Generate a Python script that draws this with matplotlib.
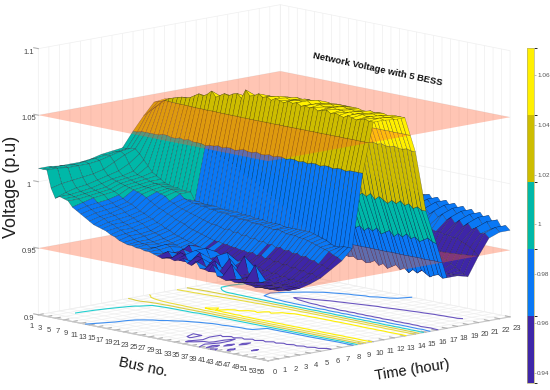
import numpy as np
import matplotlib
matplotlib.use("Agg")
import matplotlib.pyplot as plt
from matplotlib.colors import ListedColormap, BoundaryNorm
from matplotlib.cm import ScalarMappable
from mpl_toolkits.mplot3d.art3d import Poly3DCollection

plt.rcParams['font.family'] = ['Liberation Sans', 'DejaVu Sans']

# bus voltage per hour, thousandths of p.u, bus 1 to bus 55
t00 = [1010,1010,1010,997,990, 992,991,990,986,984, 982,980,978,976,975, 974,973,971,970,968, 967,966,966,965,965, 964,964,963,962,961, 962,962,961,962,964, 961,960,964,959,959, 958,964,956,955,954, 955,954,954,955,954, 954,953,954,954,954]
t01 = [1010,1010,1010,999,993, 992,991,990,988,986, 984,982,980,979,977, 976,974,973,971,970, 968,967,966,966,964, 965,964,962,964,960, 961,965,964,959,960, 965,964,958,957,964, 956,955,954,964,953, 954,952,953,953,952, 952,952,951,952,951]
t02 = [1009,1010,1009,1000,995, 993,992,991,990,987, 985,983,981,980,978, 976,975,973,972,970, 969,967,966,965,964, 966,965,961,961,965, 960,959,966,965,958, 957,958,965,957,955, 965,954,953,952,953, 951,964,951,952,950, 951,950,951,950,950]
t03 = [1009,1009,1009,1001,996, 994,993,992,991,988, 986,984,983,981,979, 978,976,975,973,971, 970,969,967,966,965, 964,963,962,966,960, 960,960,966,959,957, 958,956,966,955,956, 954,966,953,953,952, 952,951,952,950,951, 950,951,950,950,950]
t04 = [1009,1010,1009,1002,998, 996,994,993,992,990, 988,986,985,983,981, 980,978,977,975,974, 972,971,969,968,967, 966,965,964,963,962, 963,961,962,960,961, 959,960,958,959,957, 958,956,957,955,956, 954,955,953,954,952, 953,952,952,952,952]
t05 = [1010,1011,1010,1004,1000, 998,997,996,995,994, 993,992,991,989,987, 985,983,982,980,979, 977,976,975,973,972, 971,970,969,968,967, 967,966,966,965,965, 964,964,963,964,962, 963,961,962,960,961, 959,960,958,959,957, 958,956,957,955,955]
t06 = [1012,1012,1012,1008,1002, 999,998,997,996,995, 994,994,993,992,991, 990,987,986,984,983, 982,981,980,979,978, 977,976,976,975,974, 975,973,974,972,973, 971,972,970,971,969, 970,968,969,967,968, 966,967,965,966,964, 964,962,962,960,960]
t07 = [1013,1013,1014,1012,1006, 1001,999,998,997,996, 995,995,994,993,993, 992,991,988,987,986, 986,985,985,984,984, 983,983,983,982,982, 981,981,981,980,980, 980,979,979,978,979, 978,977,977,977,976, 976,975,974,973,972, 971,970,968,967,965]
t08 = [1014,1014,1015,1015,1012, 1008,1004,1000,998,996, 994,993,992,992,991, 991,991,985,985,984, 984,984,984,983,983, 983,983,983,982,982, 982,981,981,981,980, 980,980,980,979,979, 979,979,979,979,979, 978,977,976,975,973, 972,972,973,973,973]
t09 = [1025,1025,1026,1026,1026, 1026,1026,1027,1027,1026, 1026,1027,1026,1027,1026, 1026,1026,1025,1026,1026, 1027,1026,1027,1027,1026, 1027,1028,1027,1027,1028, 1027,1027,1028,1027,1028, 1028,1027,1028,1028,1027, 1028,1027,1028,1028,1027, 1028,1028,1027,1028,1028, 1027,1028,1028,1028,1028]
t10 = [1035,1038,1041,1044,1047, 1050,1052,1053,1054,1055, 1055,1056,1058,1060,1059, 1061,1064,1060,1062,1064, 1063,1065,1066,1063,1070, 1066,1067,1069,1067,1068, 1066,1068,1067,1066,1068, 1067,1068,1066,1067,1066, 1067,1065,1066,1067,1065, 1066,1065,1064,1066,1065, 1064,1065,1066,1065,1065]
t11 = [1044,1045,1046,1046,1047, 1048,1049,1050,1051,1052, 1052,1053,1055,1056,1055, 1056,1058,1057,1059,1060, 1060,1062,1062,1061,1064, 1063,1065,1066,1066,1067, 1065,1067,1066,1067,1067, 1066,1068,1066,1067,1067, 1066,1066,1067,1066,1066, 1065,1066,1065,1066,1066, 1065,1066,1065,1066,1065]
t12 = [1045,1045,1046,1046,1046, 1047,1048,1048,1049,1050, 1050,1051,1052,1053,1053, 1054,1055,1055,1056,1057, 1057,1058,1059,1059,1061, 1060,1062,1063,1063,1065, 1064,1066,1065,1066,1066, 1065,1067,1065,1066,1066, 1065,1065,1066,1065,1065, 1064,1065,1064,1065,1065, 1064,1065,1064,1065,1064]
t13 = [1044,1044,1045,1045,1045, 1046,1046,1047,1047,1048, 1048,1049,1050,1050,1051, 1051,1052,1052,1053,1054, 1054,1055,1055,1056,1057, 1057,1059,1059,1060,1061, 1061,1062,1062,1063,1063, 1063,1064,1063,1064,1064, 1064,1064,1064,1064,1063, 1063,1064,1063,1064,1064, 1063,1064,1064,1064,1064]
t14 = [1022,1023,1024,1025,1026, 1027,1028,1029,1030,1031, 1032,1033,1033,1034,1034, 1035,1035,1035,1036,1036, 1036,1036,1037,1037,1037, 1037,1037,1037,1037,1038, 1037,1038,1037,1038,1037, 1038,1037,1037,1038,1037, 1037,1038,1037,1037,1038, 1037,1038,1037,1037,1038, 1037,1037,1038,1037,1037]
t15 = [1006,1006,1005,1004,1003, 1002,1001,1000,999,999, 998,998,997,997,996, 996,996,995,996,995, 995,996,994,995,996, 994,995,993,995,996, 993,995,996,993,994, 996,993,995,992,995, 993,996,992,995,993, 991,994,992,995,992, 994,991,993,991,991]
t16 = [1005,1004,1003,1001,999, 997,995,993,991,989, 987,985,983,981,979, 977,975,973,972,970, 969,968,968,967,967, 968,966,967,965,968, 966,964,967,965,968, 965,967,964,967,965, 968,964,966,968,964, 967,965,968,965,967, 964,966,968,966,965]
t17 = [1005,1004,1003,1001,998, 996,994,991,989,987, 985,983,981,979,976, 973,970,964,960,958, 956,955,953,951,950, 948,946,944,942,941, 940,939,940,938,939, 937,938,940,937,939, 936,938,940,937,939, 936,939,937,940,938, 936,938,939,937,938]
t18 = [1006,1005,1004,1002,1000, 998,996,994,992,990, 988,986,984,982,980, 978,975,970,968,967, 966,965,964,962,960, 959,958,957,956,955, 954,953,952,951,950, 949,948,947,946,945, 945,944,943,943,942, 941,941,940,940,939, 939,938,938,938,938]
t19 = [1007,1006,1005,1003,1001, 999,997,995,994,992, 990,989,987,985,984, 982,980,978,976,974, 973,972,971,970,969, 968,967,966,965,964, 963,962,961,960,960, 959,958,957,956,955, 954,953,952,951,950, 949,948,947,946,945, 943,941,939,937,936]
t20 = [1008,1007,1006,1004,1002, 1000,998,997,995,994, 992,991,990,988,987, 985,984,983,981,980, 979,978,977,976,975, 974,973,972,971,971, 970,970,969,969,968, 968,967,967,966,966, 965,964,964,963,962, 962,961,961,960,960, 958,957,955,953,950]
t21 = [1009,1008,1007,1005,1003, 1001,1000,998,997,996, 994,993,992,991,990, 989,988,987,986,985, 984,983,982,982,981, 980,980,979,979,978, 978,977,977,976,975, 977,973,976,972,975, 971,974,970,973,969, 972,968,971,967,970, 966,968,964,965,962]
t22 = [1010,1009,1008,1006,1004, 1002,1001,999,998,997, 995,994,993,992,991, 990,989,988,988,987, 986,985,985,984,984, 983,982,982,981,981, 980,980,979,979,979, 980,976,979,975,978, 974,977,973,976,972, 975,971,974,970,973, 968,971,966,968,965]
t23 = [1010,1010,1008,1006,1004, 1003,1001,1000,999,997, 996,995,994,993,992, 991,990,989,988,987, 986,986,985,984,984, 983,983,982,982,981, 981,980,980,979,979, 980,976,979,975,978, 974,977,973,976,972, 975,971,974,970,973, 968,971,966,968,965]

buses = np.arange(1, 56)
hours = np.arange(0, 24)
limit_planes = [0.95, 1.05]
bar_edges = [0.936, 0.963, 0.990, 1.017, 1.044, 1.071]
bar_colors = ['#3e26a8', '#0a78f5', '#00b8a8', '#cdbd00', '#fff000']
contour_levels = [0.96, 0.98, 1.0, 1.02, 1.04, 1.06]
contour_colors = ['#6a55c0', '#3f8ff0', '#22cfd0', '#d8cc40', '#e8dc40', '#fff000']
bus_ticks = list(range(1, 56, 2))
hour_ticks = list(range(0, 24))
volt_ticks = [0.9, 0.95, 1, 1.05, 1.1]
volt_labels = ['0.9', '0.95', '1', '1.05', '1.1']
bar_ticks = [0.94, 0.96, 0.98, 1, 1.02, 1.04, 1.06]
bar_labels = ['0.94', '0.96', '0.98', '1', '1.02', '1.04', '1.06']

volt = np.array([t00, t01, t02, t03, t04, t05, t06, t07, t08, t09, t10, t11,
                 t12, t13, t14, t15, t16, t17, t18, t19, t20, t21, t22, t23]) / 1000.0


def cut(poly, level):
    # split a facet at a height, returns the part under and the part over
    under, over = [], []
    for k in range(len(poly)):
        p, q = poly[k], poly[(k + 1) % len(poly)]
        if p[2] <= level:
            under.append(p)
        if p[2] >= level:
            over.append(p)
        if (p[2] - level) * (q[2] - level) < 0:
            f = (level - p[2]) / (q[2] - p[2])
            m = (p[0] + f * (q[0] - p[0]), p[1] + f * (q[1] - p[1]), level)
            under.append(m)
            over.append(m)
    return under, over


# facets take the colour of their first corner, like flat shading in the original
cmap = ListedColormap(bar_colors)
norm = BoundaryNorm(bar_edges, cmap.N)
layers = [([], []), ([], []), ([], [])]
for j in range(len(hours) - 1):
    for i in range(len(buses) - 1):
        poly = [(buses[i], hours[j], volt[j, i]), (buses[i + 1], hours[j], volt[j, i + 1]),
                (buses[i + 1], hours[j + 1], volt[j + 1, i + 1]), (buses[i], hours[j + 1], volt[j + 1, i])]
        col = cmap(norm(volt[j, i]))
        low, rest = cut(poly, limit_planes[0])
        mid, high = cut(rest, limit_planes[1]) if rest else ([], [])
        for layer, part in zip(layers, [low, mid, high]):
            if len(part) >= 3:
                layer[0].append(part)
                layer[1].append(col)

fig = plt.figure(figsize=(5.5, 3.9), dpi=100)
ax = fig.add_axes([-0.009, 0.020, 0.996, 0.996], projection='3d', computed_zorder=False)
ax.patch.set_alpha(0)
ax.set_proj_type('ortho')
ax.view_init(elev=11, azim=-43.6)
ax.set_xlim(1, 55, view_margin=0)
ax.set_ylim(0, 23, view_margin=0)
ax.set_zlim(0.9, 1.1, view_margin=0)
ax.set_box_aspect((333, 334, 271), zoom=1.36)

ax.contour(buses, hours, volt, levels=contour_levels, colors=contour_colors,
           zdir='z', offset=0.9, linewidths=0.8, zorder=1, clip_on=False)

z = 2
for n, layer in enumerate(layers):
    surf = Poly3DCollection(layer[0], facecolors=layer[1], edgecolors=(0.05, 0.05, 0.1, 0.5),
                            linewidths=0.3, zsort='average', zorder=z, clip_on=False)
    ax.add_collection3d(surf)
    z += 1
    if n < len(limit_planes):
        k = limit_planes[n]
        plane = Poly3DCollection([[(buses[0], hours[0], k), (buses[-1], hours[0], k),
                                   (buses[-1], hours[-1], k), (buses[0], hours[-1], k)]],
                                 facecolors=[(1.0, 0.35, 0.16, 0.35)], edgecolors='none', zorder=z, clip_on=False)
        ax.add_collection3d(plane)
        z += 1

for axis in [ax.xaxis, ax.yaxis, ax.zaxis]:
    axis.set_pane_color((1, 1, 1, 0))
    axis.pane.set_edgecolor('#ececec')
    axis.line.set_color('#c8c8c8')
    axis.line.set_linewidth(0.8)
    axis._axinfo['grid'].update(color='#efefef', linewidth=0.5)
    axis._axinfo['tick'].update(inward_factor=0.0, outward_factor=0.25)
ax.zaxis._axinfo['juggled'] = (1, 0, 2)

ax.set_xticks(bus_ticks)
ax.set_xticklabels([str(b) for b in bus_ticks])
ax.set_yticks(hour_ticks)
ax.set_yticklabels([str(h) for h in hour_ticks])
ax.set_zticks(volt_ticks)
ax.set_zticklabels(volt_labels)
ax.tick_params(axis='both', labelsize=5.5, labelcolor='#444444', color='#b0b0b0', pad=-4, width=0.5)
ax.tick_params(axis='z', labelsize=5.5, labelcolor='#444444', color='#b0b0b0', pad=-5, width=0.5)

fig.text(12 / 550, 1 - 187 / 390, 'Voltage (p.u)', rotation=90, fontsize=13, color='#222222', ha='center', va='center')
fig.text(143 / 550, 1 - 367 / 390, 'Bus no.', rotation=-12, fontsize=10.5, color='#111111', ha='center', va='center')
fig.text(412 / 550, 1 - 370 / 390, 'Time (hour)', rotation=9, fontsize=10.5, color='#111111', ha='center', va='center')
fig.text(378 / 550, 1 - 69 / 390, 'Network Voltage with 5 BESS', rotation=-12, fontsize=6.8, fontweight='bold',
         color='#111111', ha='center', va='center')

cax = fig.add_axes([527 / 550, 1 - 383 / 390, 7 / 550, 335 / 390])
cb = fig.colorbar(ScalarMappable(norm=norm, cmap=cmap), cax=cax, spacing='proportional')
cb.set_ticks(bar_ticks)
cb.set_ticklabels(bar_labels)
cb.ax.tick_params(labelsize=4.6, labelcolor='#555555', length=1.2, width=0.4, color='#888888', pad=1)
cb.outline.set_edgecolor('#b8b070')
cb.outline.set_linewidth(0.5)

fig.savefig('out.png', dpi=100)
